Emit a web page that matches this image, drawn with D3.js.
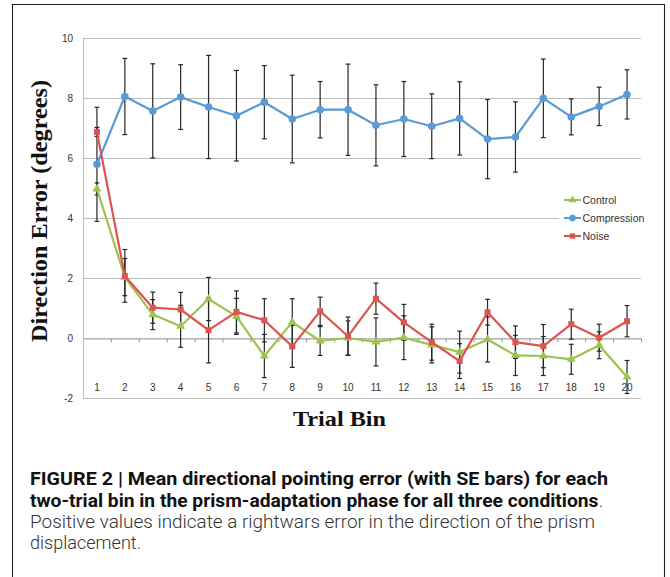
<!DOCTYPE html>
<html>
<head>
<meta charset="utf-8">
<script src="https://cdn.jsdelivr.net/npm/d3@7"></script>
<style>
  body { margin: 0; background: #fff; }
</style>
</head>
<body>
<div id="chart"></div>
<script>
const bins = ['1', '2', '3', '4', '5', '6', '7', '8', '9', '10',
  '11', '12', '13', '14', '15', '16', '17', '18', '19', '20'];
const yTicks = [-2, 0, 2, 4, 6, 8, 10];

const control = [4.97, 2.03, 0.78, 0.39, 1.30, 0.72, -0.60, 0.53, -0.10, 0.00,
  -0.13, 0.01, -0.23, -0.47, -0.05, -0.58, -0.60, -0.71, -0.24, -1.30];
const controlSE = [0.20, 0.62, 0.50, 0.70, 0.72, 0.60, 0.72, 0.78, 0.48, 0.57,
  0.80, 0.73, 0.60, 0.70, 0.75, 0.67, 0.65, 0.50, 0.45, 0.55];

const compression = [5.79, 8.05, 7.57, 8.03, 7.70, 7.41, 7.86, 7.30, 7.61, 7.61,
  7.09, 7.30, 7.06, 7.32, 6.63, 6.70, 7.99, 7.37, 7.72, 8.12];
const compressionSE = [1.90, 1.27, 1.57, 1.08, 1.72, 1.51, 1.22, 1.46, 0.94, 1.52,
  1.35, 1.25, 1.08, 1.22, 1.32, 1.17, 1.31, 0.60, 0.64, 0.82];

const noise = [6.87, 2.07, 1.01, 0.95, 0.26, 0.87, 0.59, -0.28, 0.89, 0.06,
  1.31, 0.52, -0.14, -0.77, 0.86, -0.14, -0.27, 0.46, 0.01, 0.56];
const noiseSE = [0.15, 0.88, 0.52, 0.57, 1.09, 0.70, 0.72, 0.70, 0.47, 0.64,
  0.52, 0.60, 0.60, 0.58, 0.43, 0.54, 0.72, 0.50, 0.45, 0.52];

const series = [
  { name: 'Control', values: control, se: controlSE, color: '#9cc34f', symbol: d3.symbolTriangle, size: 34 },
  { name: 'Compression', values: compression, se: compressionSE, color: '#5a9ad6', symbol: d3.symbolCircle, size: 44 },
  { name: 'Noise', values: noise, se: noiseSE, color: '#dc544f', symbol: d3.symbolSquare, size: 36 },
];

const width = 670;
const height = 577;
const plot = { left: 83, right: 641, top: 38, bottom: 398 };

const svg = d3.select('#chart')
  .append('svg')
  .attr('width', width)
  .attr('height', height);

svg.append('rect')
  .attr('width', width)
  .attr('height', height)
  .attr('fill', '#fff');

// figure frame (open at the bottom)
svg.append('path')
  .attr('d', 'M12.5,600 V4.5 H664.5 V600')
  .attr('fill', 'none')
  .attr('stroke', '#222')
  .attr('stroke-width', 1.1);

const x = d3.scalePoint()
  .domain(bins)
  .range([plot.left, plot.right])
  .padding(0.5);

const y = d3.scaleLinear()
  .domain([-2, 10])
  .range([plot.bottom, plot.top]);

// gridlines
svg.append('g')
  .selectAll('line')
  .data(yTicks)
  .join('line')
  .attr('x1', plot.left)
  .attr('x2', plot.right)
  .attr('y1', d => Math.round(y(d)) + 0.5)
  .attr('y2', d => Math.round(y(d)) + 0.5)
  .attr('stroke', '#bdbdbd')
  .attr('stroke-width', 1);

// y axis line
svg.append('line')
  .attr('x1', plot.left + 0.5)
  .attr('x2', plot.left + 0.5)
  .attr('y1', plot.top)
  .attr('y2', plot.bottom)
  .attr('stroke', '#bdbdbd');

// y tick labels
svg.append('g')
  .selectAll('text')
  .data(yTicks)
  .join('text')
  .attr('x', 73)
  .attr('y', d => y(d))
  .attr('dy', '0.35em')
  .attr('text-anchor', 'end')
  .style('font-family', 'Liberation Sans, Arial, sans-serif')
  .style('font-size', '10px')
  .style('fill', '#333')
  .text(d => d);

// x axis at zero with tick marks between bins
const step = x.step();
const xAxis = d3.axisBottom(x).tickSize(0).tickFormat('');
const xg = svg.append('g')
  .attr('transform', `translate(0,${Math.round(y(0)) + 0.5})`)
  .call(xAxis);
xg.select('.domain').attr('stroke', '#aaa');
xg.selectAll('.tick').append('line')
  .attr('x1', step / 2)
  .attr('x2', step / 2)
  .attr('y1', 0)
  .attr('y2', 4)
  .attr('stroke', '#999');

// x tick labels near the bottom of the plot
svg.append('g')
  .selectAll('text')
  .data(bins)
  .join('text')
  .attr('x', d => x(d))
  .attr('y', 387)
  .attr('dy', '0.35em')
  .attr('text-anchor', 'middle')
  .style('font-family', 'Liberation Sans, Arial, sans-serif')
  .style('font-size', '10px')
  .style('fill', '#333')
  .text(d => d);

// error bars
const capW = 2.4;
series.forEach(s => {
  const g = svg.append('g')
    .attr('stroke', '#262626')
    .attr('stroke-width', 1.2);
  bins.forEach((b, i) => {
    const cx = x(b);
    const top = y(s.values[i] + s.se[i]);
    const bot = y(s.values[i] - s.se[i]);
    g.append('line').attr('x1', cx).attr('x2', cx).attr('y1', top).attr('y2', bot);
    g.append('line').attr('x1', cx - capW).attr('x2', cx + capW).attr('y1', top).attr('y2', top);
    g.append('line').attr('x1', cx - capW).attr('x2', cx + capW).attr('y1', bot).attr('y2', bot);
  });
});

// lines and markers
const line = d3.line()
  .x((d, i) => x(bins[i]))
  .y(d => y(d));

series.forEach(s => {
  svg.append('path')
    .datum(s.values)
    .attr('d', line)
    .attr('fill', 'none')
    .attr('stroke', s.color)
    .attr('stroke-width', 2.2)
    .attr('stroke-linejoin', 'round');

  svg.append('g')
    .selectAll('path')
    .data(s.values)
    .join('path')
    .attr('transform', (d, i) => `translate(${x(bins[i])},${y(d)})`)
    .attr('d', d3.symbol().type(s.symbol).size(s.size))
    .attr('fill', s.color);
});

// legend
const legend = svg.append('g');
legend.append('rect')
  .attr('x', 559)
  .attr('y', 190)
  .attr('width', 88)
  .attr('height', 56)
  .attr('fill', '#fff');

const legendRows = legend.selectAll('g')
  .data(series)
  .join('g')
  .attr('transform', (d, i) => `translate(564,${200 + i * 18})`);

legendRows.append('line')
  .attr('x1', 0)
  .attr('x2', 17)
  .attr('stroke', d => d.color)
  .attr('stroke-width', 2);

legendRows.append('path')
  .attr('transform', 'translate(8.5,0)')
  .attr('d', d => d3.symbol().type(d.symbol).size(d.size * 0.8)())
  .attr('fill', d => d.color);

legendRows.append('text')
  .attr('x', 18.5)
  .attr('dy', '0.35em')
  .style('font-family', 'Liberation Sans, Arial, sans-serif')
  .style('font-size', '10.5px')
  .style('fill', '#333')
  .text(d => d.name);

// axis titles
svg.append('text')
  .attr('transform', 'translate(47,211) rotate(-90)')
  .attr('text-anchor', 'middle')
  .attr('textLength', 262)
  .attr('lengthAdjust', 'spacingAndGlyphs')
  .style('font-family', 'Liberation Serif, Times New Roman, serif')
  .style('font-weight', 'bold')
  .style('font-size', '23px')
  .style('fill', '#111')
  .text('Direction Error (degrees)');

svg.append('text')
  .attr('x', 293)
  .attr('y', 425.5)
  .attr('textLength', 93)
  .attr('lengthAdjust', 'spacingAndGlyphs')
  .style('font-family', 'Liberation Serif, Times New Roman, serif')
  .style('font-weight', 'bold')
  .style('font-size', '21px')
  .style('fill', '#111')
  .text('Trial Bin');

// caption
const captionFont = 'Roboto, Liberation Sans, Arial, sans-serif';
svg.append('text')
  .attr('x', 30)
  .attr('y', 484.5)
  .attr('textLength', 578)
  .attr('lengthAdjust', 'spacingAndGlyphs')
  .style('font-family', captionFont)
  .style('font-size', '17.5px')
  .style('font-weight', 'bold')
  .style('fill', '#111')
  .text('FIGURE 2 | Mean directional pointing error (with SE bars) for each');

const cap2 = svg.append('text')
  .attr('x', 30)
  .attr('y', 506.5)
  .attr('textLength', 573)
  .attr('lengthAdjust', 'spacingAndGlyphs')
  .style('font-family', captionFont)
  .style('font-size', '17.5px')
  .style('fill', '#111');
cap2.append('tspan')
  .style('font-weight', 'bold')
  .text('two-trial bin in the prism-adaptation phase for all three conditions');
cap2.append('tspan')
  .style('font-weight', 300)
  .style('fill', '#444')
  .text('.');

svg.append('text')
  .attr('x', 30)
  .attr('y', 527.5)
  .attr('textLength', 565)
  .attr('lengthAdjust', 'spacingAndGlyphs')
  .style('font-family', captionFont)
  .style('font-size', '17.5px')
  .style('font-weight', 300)
  .style('fill', '#333')
  .text('Positive values indicate a rightwars error in the direction of the prism');

svg.append('text')
  .attr('x', 30)
  .attr('y', 548.5)
  .attr('textLength', 111)
  .attr('lengthAdjust', 'spacingAndGlyphs')
  .style('font-family', captionFont)
  .style('font-size', '17.5px')
  .style('font-weight', 300)
  .style('fill', '#333')
  .text('displacement.');
</script>
</body>
</html>
